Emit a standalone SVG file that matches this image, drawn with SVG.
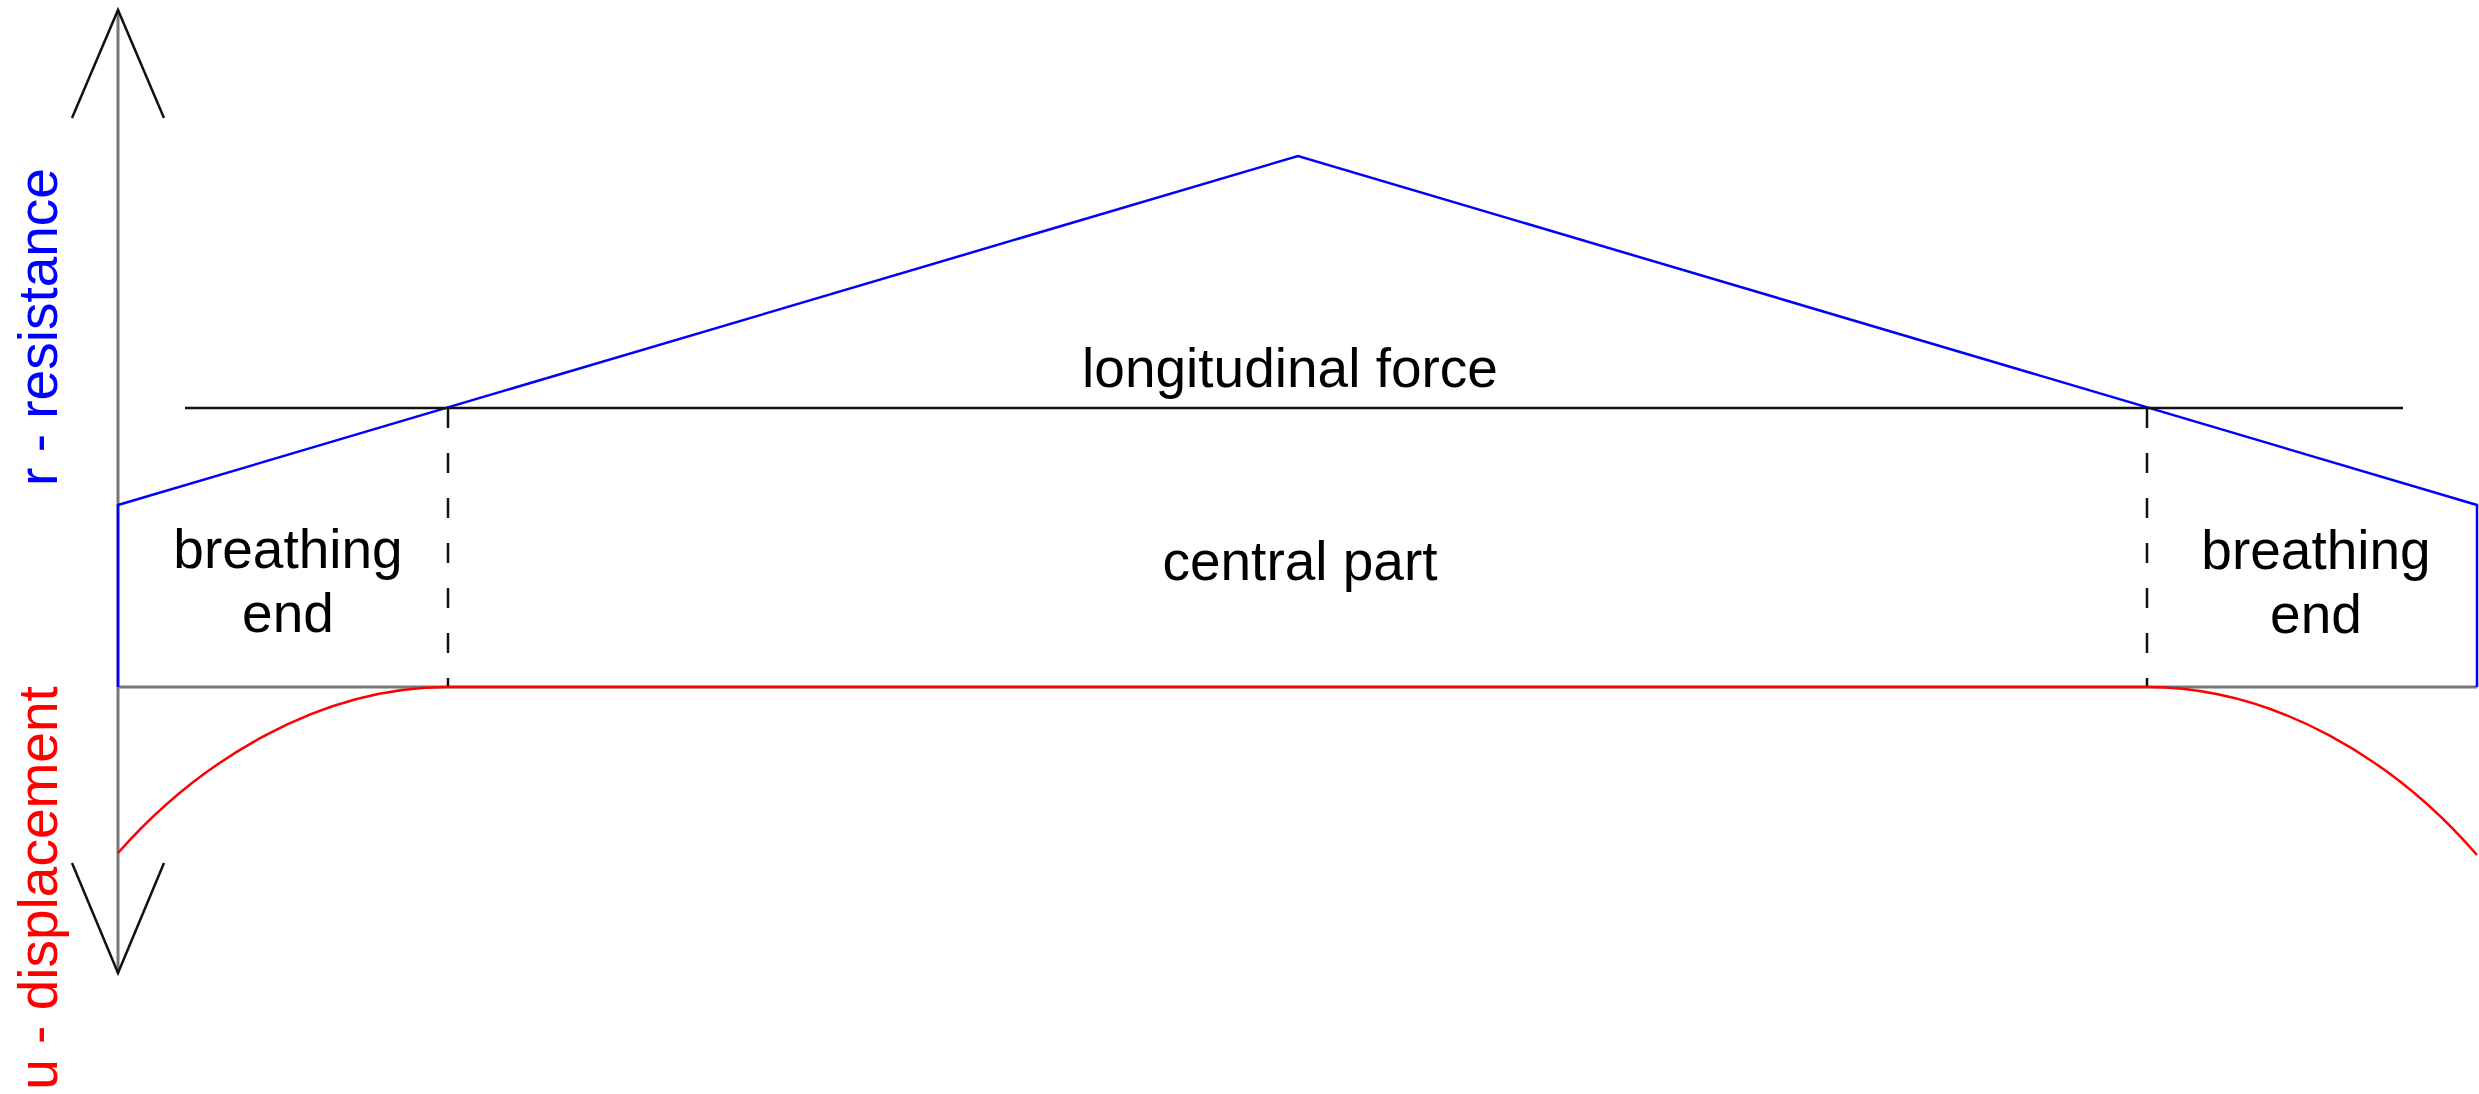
<svg xmlns="http://www.w3.org/2000/svg" width="2479" height="1094" viewBox="0 0 2479 1094">
  <style>
    .lbl { font-family: "Liberation Sans", Arial, sans-serif; font-size: 55px; text-anchor: middle; }
    .axis { stroke: #777777; stroke-width: 3; fill: none; }
    .arrow { stroke: #111111; stroke-width: 2.5; fill: none; }
    .blue { stroke: #0000ff; stroke-width: 2.5; fill: none; }
    .red { stroke: #ff0000; stroke-width: 2.5; fill: none; }
    .force { stroke: #111111; stroke-width: 2.5; fill: none; }
    .dash { stroke: #111111; stroke-width: 2.5; stroke-dasharray: 20 25; fill: none; }
  </style>
  <rect width="2479" height="1094" fill="#ffffff"/>
  <g id="axes">
    <line class="axis" x1="118" y1="10" x2="118" y2="973"/>
    <line class="axis" x1="118" y1="687" x2="2477" y2="687"/>
    <polyline class="arrow" points="72,118 118,10 164,118"/>
    <polyline class="arrow" points="72,863 118,973 164,863"/>
  </g>
  <g id="connectors">
    <polyline id="resistance" class="blue" points="118,687 118,505 1298,156 2477,505 2477,687"/>
    <line id="longitudinal-force" class="force" x1="185" y1="408" x2="2403" y2="408"/>
    <line class="dash" x1="448" y1="408" x2="448" y2="687"/>
    <line class="dash" x1="2147" y1="408" x2="2147" y2="687"/>
    <path id="displacement" class="red" d="M118,853 C200,760 320,687 448,687 L2147,687 C2275,687 2395,760 2477,855"/>
  </g>
  <g id="label-force">
    <text class="lbl" x="1290" y="387" fill="#000000">longitudinal force</text>
  </g>
  <g id="label-central">
    <text class="lbl" x="1300" y="580" fill="#000000">central part</text>
  </g>
  <g id="label-left-end">
    <text class="lbl" x="288" y="568" fill="#000000">breathing</text>
    <text class="lbl" x="288" y="632" fill="#000000">end</text>
  </g>
  <g id="label-right-end">
    <text class="lbl" x="2316" y="569" fill="#000000">breathing</text>
    <text class="lbl" x="2316" y="633" fill="#000000">end</text>
  </g>
  <g id="label-r">
    <text class="lbl" transform="translate(57,327) rotate(-90)" fill="#0000ff">r - resistance</text>
  </g>
  <g id="label-u">
    <text class="lbl" transform="translate(57,888) rotate(-90)" fill="#ff0000">u - displacement</text>
  </g>
</svg>
